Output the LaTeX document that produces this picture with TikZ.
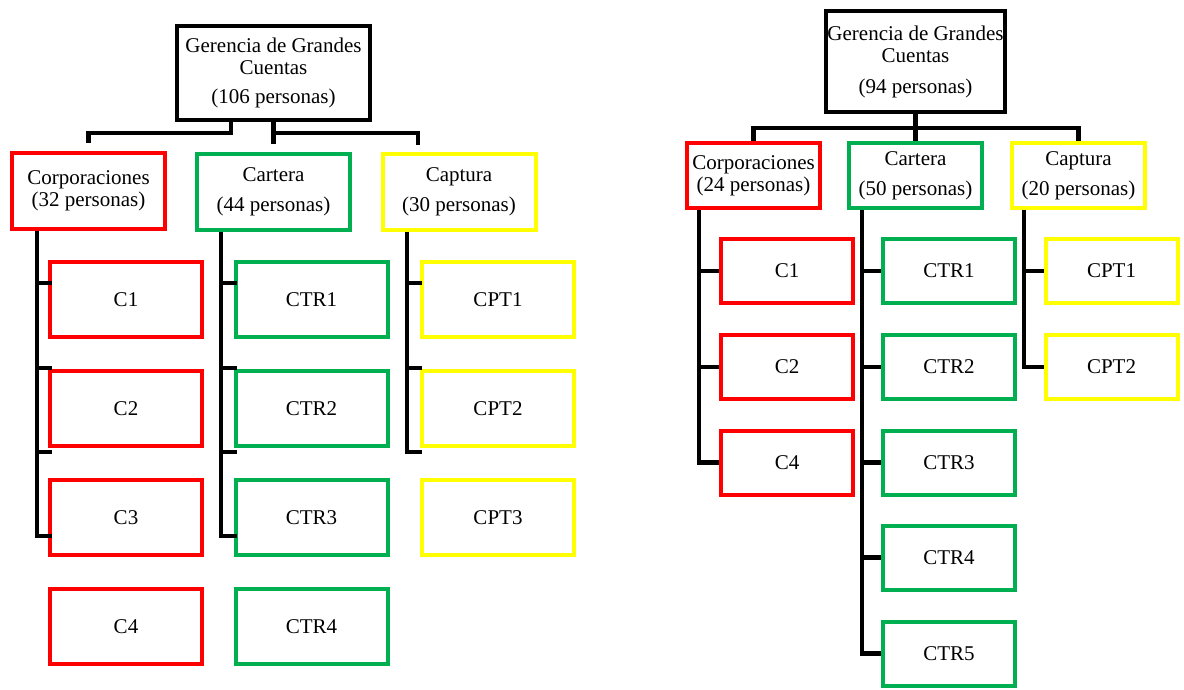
\documentclass[tikz,border=0pt]{standalone}
\usepackage{fontspec}
\setmainfont{Liberation Serif}
\usetikzlibrary{calc}
\definecolor{bred}{HTML}{FF0000}
\definecolor{bgreen}{HTML}{00B050}
\definecolor{byellow}{HTML}{FFFF00}
\begin{document}
\begin{tikzpicture}[x=1pt,y=-1pt,
  box/.style={draw, line width=4pt, inner sep=0pt, align=center,
    font=\fontsize{21}{22}\selectfont},
  headL/.style={box, draw=black, minimum width=193pt, minimum height=94pt},
  midL/.style={box, minimum width=153pt, minimum height=76pt},
  subL/.style={box, minimum width=152pt, minimum height=75pt},
  headR/.style={box, draw=black, minimum width=179pt, minimum height=101pt},
  midR/.style={box, minimum width=133pt, minimum height=65pt},
  subR/.style={box, minimum width=132pt, minimum height=64pt},
  rbox/.style={draw=bred},
  gbox/.style={draw=bgreen},
  ybox/.style={draw=byellow},
  conn/.style={draw=black, line width=4.5pt}]
\useasboundingbox (0,0) rectangle (1184,689);

% ---------------- left chart ----------------
\node[headL] (topL) at (273.5,73) {Gerencia de Grandes\\Cuentas\\[7pt](106 personas)};
\node[midL,rbox] (corpL) at (88.5,191) {Corporaciones\\(32 personas)};
\node[midL,gbox] (cartL) at (273.5,191.5) {Cartera\\[8pt](44 personas)};
\node[midL,ybox] (captL) at (459,191.5) {Captura\\[8pt](30 personas)};

\node[subL,rbox] (c1L) at (126,299.5) {C1};
\node[subL,rbox] (c2L) at (126,408.5) {C2};
\node[subL,rbox] (c3L) at (126,517.5) {C3};
\node[subL,rbox] (c4L) at (126,626.5) {C4};
\node[subL,gbox] (t1L) at (311.5,299.5) {CTR1};
\node[subL,gbox] (t2L) at (311.5,408.5) {CTR2};
\node[subL,gbox] (t3L) at (311.5,517.5) {CTR3};
\node[subL,gbox] (t4L) at (311.5,626.5) {CTR4};
\node[subL,ybox] (p1L) at (498,299.5) {CPT1};
\node[subL,ybox] (p2L) at (498,408.5) {CPT2};
\node[subL,ybox] (p3L) at (498,517.5) {CPT3};

% top connectors
\coordinate (jL) at (231,133);
\coordinate (capStemL) at (418,145);
\draw[conn] (topL.south -| jL) -- (jL) -| ($(corpL.north)+(0,-8)$);
\draw[conn] (topL.south) -- ($(cartL.north)+(0,-8)$);
\draw[conn] (topL.south |- jL) -| (capStemL);

% Corporaciones column
\coordinate (vC) at (37,536);
\coordinate (tC1) at (37,283);
\coordinate (tC2) at (37,368);
\coordinate (tC3) at (37,452);
\draw[conn] (corpL.south -| vC) -- (vC) -- ($(vC -| c3L.west)+(4,0)$);
\draw[conn] (tC1) -- ($(tC1 -| c1L.west)+(4,0)$);
\draw[conn] (tC2) -- ($(tC2 -| c2L.west)+(4,0)$);
\draw[conn] (tC3) -- ($(tC3 -| c2L.west)+(4,0)$);

% Cartera column
\coordinate (vT) at (221,536);
\coordinate (tT1) at (221,283);
\coordinate (tT2) at (221,368);
\coordinate (tT3) at (221,452);
\draw[conn] (cartL.south -| vT) -- (vT) -- ($(vT -| t3L.west)+(3,0)$);
\draw[conn] (tT1) -- ($(tT1 -| t1L.west)+(3,0)$);
\draw[conn] (tT2) -- ($(tT2 -| t2L.west)+(3,0)$);
\draw[conn] (tT3) -- ($(tT3 -| t2L.west)+(3,0)$);

% Captura column
\coordinate (vP) at (407,452);
\coordinate (tP1) at (407,283);
\coordinate (tP2) at (407,368);
\draw[conn] (captL.south -| vP) -- (vP) -- ($(vP -| p2L.west)+(2,0)$);
\draw[conn] (tP1) -- ($(tP1 -| p1L.west)+(2,0)$);
\draw[conn] (tP2) -- ($(tP2 -| p2L.west)+(2,0)$);

% ---------------- right chart ----------------
\node[headR] (topR) at (915.5,61.5) {Gerencia de Grandes\\Cuentas\\[9pt](94 personas)};
\node[midR,rbox] (corpR) at (753.5,175.5) {Corporaciones\\(24 personas)};
\node[midR,gbox] (cartR) at (915.5,175.5) {Cartera\\[8pt](50 personas)};
\node[midR,ybox] (captR) at (1078.5,175.5) {Captura\\[8pt](20 personas)};

\node[subR,rbox] (c1R) at (787,271) {C1};
\node[subR,rbox] (c2R) at (787,367) {C2};
\node[subR,rbox] (c4R) at (787,462.5) {C4};
\node[subR,gbox] (t1R) at (949,271) {CTR1};
\node[subR,gbox] (t2R) at (949,367) {CTR2};
\node[subR,gbox] (t3R) at (949,462.5) {CTR3};
\node[subR,gbox] (t4R) at (949,557.5) {CTR4};
\node[subR,gbox] (t5R) at (949,653.5) {CTR5};
\node[subR,ybox] (p1R) at (1111.5,271) {CPT1};
\node[subR,ybox] (p2R) at (1111.5,367) {CPT2};

% top connectors
\coordinate (jR) at (916,128);
\draw[conn] (corpR.north) |- (jR) -| (captR.north);
\draw[conn] (topR.south) -- (cartR.north);

% columns
\coordinate (vCR) at (699,0);
\coordinate (vTR) at (862,0);
\coordinate (vPR) at (1024,0);
\draw[conn] (corpR.south -| vCR) |- (c4R.west);
\draw[conn] (c1R.west -| vCR) -- (c1R.west);
\draw[conn] (c2R.west -| vCR) -- (c2R.west);
\draw[conn] (cartR.south -| vTR) |- (t5R.west);
\draw[conn] (t1R.west -| vTR) -- (t1R.west);
\draw[conn] (t2R.west -| vTR) -- (t2R.west);
\draw[conn] (t3R.west -| vTR) -- (t3R.west);
\draw[conn] (t4R.west -| vTR) -- (t4R.west);
\draw[conn] (captR.south -| vPR) |- (p2R.west);
\draw[conn] (p1R.west -| vPR) -- (p1R.west);
\end{tikzpicture}
\end{document}
